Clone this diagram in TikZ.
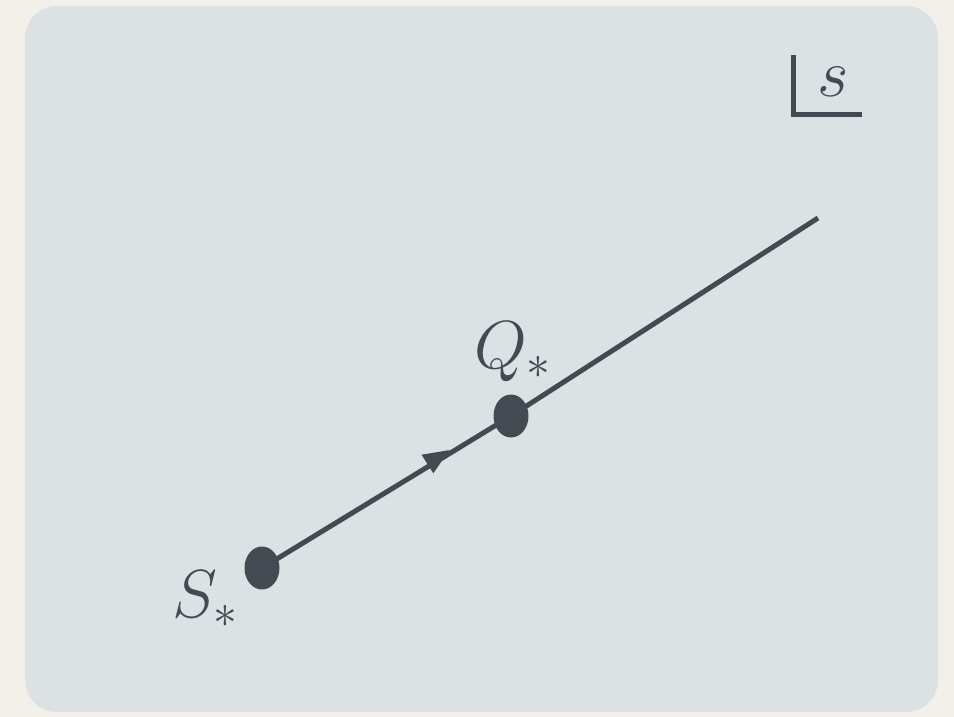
\documentclass[tikz,border=0pt]{standalone}
\usepackage{fix-cm}
\usetikzlibrary{shapes.geometric,arrows.meta,calc}
\definecolor{cream}{HTML}{F3F0E9}
\definecolor{panel}{HTML}{DCE2E4}
\definecolor{ink}{HTML}{434A51}
\tikzset{
  dot/.style={ellipse,fill=ink,draw=none,minimum width=35pt,minimum height=43pt,inner sep=0pt},
  conn/.style={draw=ink,line width=5pt},
  lbl/.style={text=ink,inner sep=0pt,font=\fontsize{68}{80}\selectfont}
}
\begin{document}
\begin{tikzpicture}[x=1pt,y=-1pt]
\fill[cream] (0,0) rectangle (954,717);
\useasboundingbox (0,0) rectangle (954,717);
\fill[panel,rounded corners=32pt] (25,6) rectangle (938,712);
% corner symbol
\coordinate (ct) at (793,55);
\coordinate (cc) at (793,115);
\coordinate (cr) at (862,115);
\draw[conn] (ct) -- (cc) -- (cr);
\node[lbl,anchor=base west] (s) at (817,96) {$s$};
% points
\coordinate (E) at (818,218);
\node[dot] (S) at (262,568) {};
\node[dot] (Q) at (511,416) {};
\draw[conn] (S.center) -- (Q.center) -- (E);
% arrowhead
\coordinate (A) at (449.4,450.1);
\coordinate (B1) at (433.3,473.3);
\coordinate (B2) at (421.5,454.7);
\fill[ink] (A) -- (B1) -- (B2) -- cycle;
\node[lbl,anchor=base west] (Sl) at (172,617) {$S_*$};
\node[lbl,anchor=base west] (Ql) at (474,368) {$Q_*$};
\end{tikzpicture}
\end{document}
